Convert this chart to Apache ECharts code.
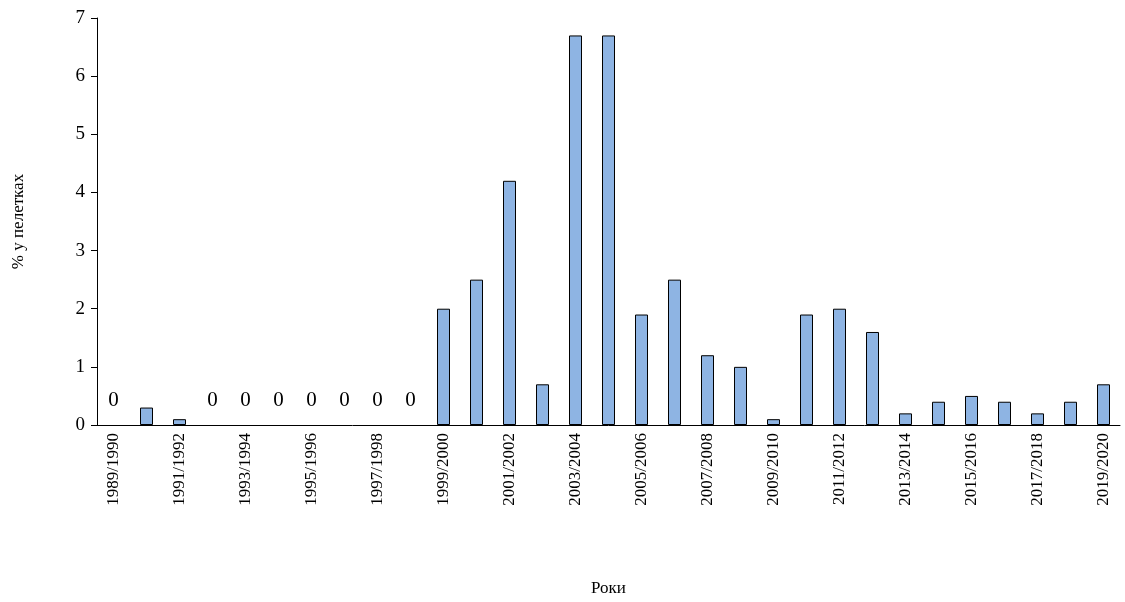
<!DOCTYPE html>
<html>
<head>
<meta charset="utf-8">
<script src="https://cdn.jsdelivr.net/npm/echarts@6/dist/echarts.min.js"></script>
<style>html,body{margin:0;padding:0;background:#fff}#chart{width:1125px;height:602px}</style>
</head>
<body>
<div id="chart"></div>
<script>
var seasons = [];
for (var y = 1989; y <= 2019; y++) seasons.push(y + '/' + (y + 1));
var values = [0, 0.3, 0.1, 0, 0, 0, 0, 0, 0, 0,
  2.0, 2.5, 4.2, 0.7, 6.7, 6.7, 1.9, 2.5, 1.2, 1.0,
  0.1, 1.9, 2.0, 1.6, 0.2, 0.4, 0.5, 0.4, 0.2, 0.4, 0.7];
var zeroLabelled = [0, 3, 4, 5, 6, 7, 8, 9];

var chart = echarts.init(document.getElementById('chart'));
var font = 'Liberation Serif';
chart.setOption({
  textStyle: { fontFamily: font, color: '#000' },
  grid: { left: 97, right: 5, top: 18, bottom: 176 },
  xAxis: {
    type: 'category',
    data: seasons,
    name: 'Роки',
    nameLocation: 'middle',
    nameGap: 155,
    nameTextStyle: { fontFamily: font, fontSize: 17, color: '#000' },
    axisLine: { lineStyle: { color: '#000' } },
    axisTick: { interval: 0, lineStyle: { color: '#000' }, length: 6 },
    axisLabel: { interval: 1, rotate: 90, fontFamily: font, fontSize: 17, color: '#000', margin: 8 }
  },
  yAxis: {
    type: 'value',
    min: 0, max: 7, interval: 1,
    name: '% у пелетках',
    nameLocation: 'middle',
    nameGap: 70,
    nameTextStyle: { fontFamily: font, fontSize: 17, color: '#000' },
    splitLine: { show: false },
    axisLine: { show: true, lineStyle: { color: '#000' } },
    axisTick: { show: true, lineStyle: { color: '#000' }, length: 6 },
    axisLabel: { fontFamily: font, fontSize: 19, color: '#000', margin: 12 }
  },
  series: [{
    type: 'bar',
    barWidth: 13,
    data: values.map(function (v, i) {
      var d = { value: v };
      if (v === 0) d.itemStyle = { borderWidth: 0 };
      if (zeroLabelled.indexOf(i) >= 0) d.label = { show: true };
      return d;
    }),
    itemStyle: { color: '#8EB4E3', borderColor: '#000', borderWidth: 1 },
    label: { show: false, position: 'top', distance: 14, fontFamily: font, fontSize: 21, color: '#000' }
  }]
});
</script>
</body>
</html>
